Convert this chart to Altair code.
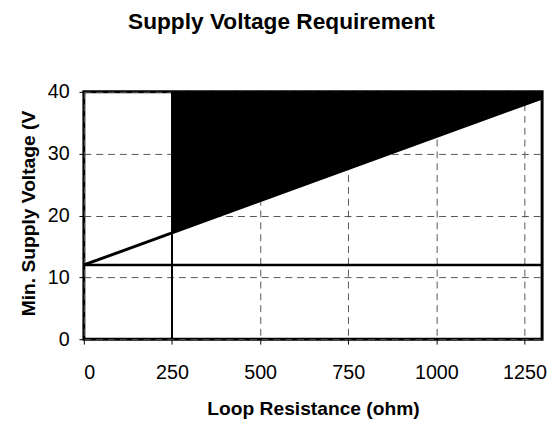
import altair as alt
import pandas as pd

# --- values ---
x_ticks = [0, 250, 500, 750, 1000, 1250]
y_ticks = [0, 10, 20, 30, 40]

req_r = [0, 1300]          # required-voltage line
req_v = [12, 39]

min_r = [0, 1300]          # minimum supply line
min_v = [12, 12]

load_r = [250, 250]        # 250 ohm load line
load_v = [0, 40]

region_r = [250, 1300]     # operating region (black)
region_lo = [17.2, 39]
region_hi = [40, 40]

FONT = "Liberation Sans"

xscale = alt.Scale(domain=[0, 1300], nice=False, zero=False)
yscale = alt.Scale(domain=[0, 40], nice=False)

x_axis = alt.Axis(values=x_ticks, title="Loop Resistance (ohm)", format="d",
                  labelPadding=19, titleY=61, titleBaseline="top")
y_axis = alt.Axis(values=y_ticks, title="Min. Supply Voltage (V", format="d",
                  labelPadding=10, titleX=-56, titleY=123,
                  titleAngle=270, titleAlign="center", titleBaseline="middle")


def X(field):
    return alt.X(f"{field}:Q", scale=xscale, axis=x_axis)


def Y(field):
    return alt.Y(f"{field}:Q", scale=yscale, axis=y_axis)


region_df = pd.DataFrame({"r": region_r, "v": region_lo, "v2": region_hi})
req_df = pd.DataFrame({"r": req_r, "v": req_v})
min_df = pd.DataFrame({"r": min_r, "v": min_v})
load_df = pd.DataFrame({"r": load_r, "v": load_v})

region = alt.Chart(region_df).mark_area(color="black", opacity=1).encode(
    x=X("r"), y=Y("v"), y2="v2:Q")
req = alt.Chart(req_df).mark_line(color="black", strokeWidth=3).encode(
    x=X("r"), y=Y("v"))
minl = alt.Chart(min_df).mark_line(color="black", strokeWidth=2.5).encode(
    x=X("r"), y=Y("v"))
load = alt.Chart(load_df).mark_line(color="black", strokeWidth=2).encode(
    x=X("r"), y=Y("v"))

chart = alt.layer(region, req, minl, load).properties(
    width=465, height=251,
    background="white",
    autosize=alt.AutoSizeParams(type="none"),
    padding={"left": 77, "top": 82, "right": 7, "bottom": 84},
    title=alt.TitleParams("Supply Voltage Requirement", font=FONT, fontSize=23,
                          fontWeight="bold", color="black", anchor="middle",
                          dx=-32, offset=31, baseline="alphabetic"),
).configure_view(
    stroke="black", strokeWidth=3
).configure_axis(
    domain=False, grid=True, gridDash=[7, 5], gridColor="#555", gridWidth=1,
    tickSize=5, tickColor="black", tickWidth=1,
    labelFont=FONT, labelFontSize=20, labelColor="black",
    titleFont=FONT, titleFontSize=19.5, titleFontWeight="bold", titleColor="black",
)

chart.save("out.html", embed_options={"renderer": "svg", "actions": False})
